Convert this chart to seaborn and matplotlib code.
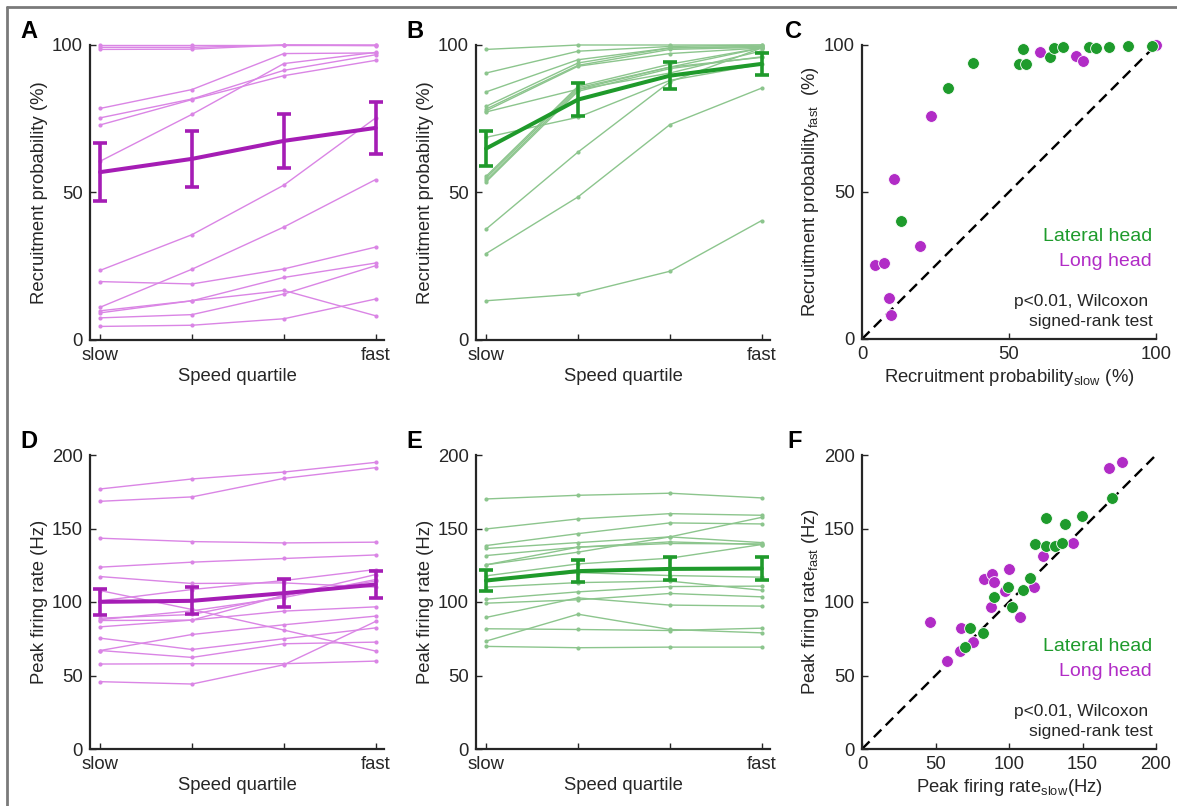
import numpy as np
import pandas as pd
import seaborn as sns
import matplotlib.pyplot as plt
from matplotlib.lines import Line2D

# ---- data ----
QUARTILES = [1, 2, 3, 4]
QUARTILE_LABELS = ["slow", "", "", "fast"]

# A: recruitment probability, long head cells (%)
A_LINES = [
    [100, 100, 100, 100],
    [99.2, 99.2, 100, 100],
    [98.5, 98.6, 100, 99.8],
    [78.5, 84.9, 97.1, 97.3],
    [75.3, 81.7, 91.4, 96.7],
    [72.9, 81.5, 89.6, 94.8],
    [60.6, 76.5, 93.7, 97.5],
    [23.6, 35.7, 52.5, 75.3],
    [11.1, 24.0, 38.3, 54.4],
    [19.8, 19.0, 24.1, 31.5],
    [9.9, 13.3, 21.2, 26.1],
    [9.2, 13.3, 16.8, 8.2],
    [7.5, 8.6, 15.6, 25.2],
    [4.6, 5.0, 7.2, 13.9],
]
A_MEAN = [56.9, 61.4, 67.5, 71.9]
A_ERR = [9.8, 9.6, 9.2, 8.9]

# B: recruitment probability, lateral head cells (%)
B_LINES = [
    [98.5, 100, 100, 100],
    [90.5, 97.9, 99.5, 100],
    [84.1, 95.0, 99.0, 99.5],
    [79.2, 93.9, 99.0, 99.5],
    [78.3, 93.1, 98.5, 99.2],
    [77.7, 92.8, 97.1, 99.0],
    [77.3, 85.0, 92.5, 95.8],
    [68.7, 75.5, 88.0, 93.5],
    [55.5, 86.0, 93.5, 99.0],
    [54.9, 85.5, 92.5, 99.0],
    [54.1, 84.9, 90.5, 98.0],
    [53.6, 84.3, 92.0, 96.0],
    [37.6, 63.7, 87.5, 99.0],
    [29.3, 48.5, 73.0, 85.4],
    [13.3, 15.6, 23.3, 40.5],
]
B_MEAN = [64.9, 81.5, 89.6, 93.6]
B_ERR = [5.8, 5.7, 4.6, 3.7]

# C: recruitment probability slow vs fast
C_LAT_SLOW = [54.9, 53.3, 55.7, 37.7, 29.4, 13.4, 63.8, 65.3, 68.3, 77.2, 79.5, 84.1, 90.6, 98.5]
C_LAT_FAST = [98.6, 93.4, 93.4, 93.8, 85.5, 40.3, 96.0, 99.1, 99.4, 99.4, 99.1, 99.4, 99.7, 99.7]
C_LONG_SLOW = [60.4, 72.7, 75.1, 100, 23.6, 11.0, 19.8, 4.5, 7.4, 9.1, 9.9]
C_LONG_FAST = [97.6, 96.4, 94.7, 100, 75.9, 54.4, 31.5, 25.0, 25.8, 13.9, 8.0]

# D: peak firing rate, long head cells (Hz)
D_LINES = [
    [176.9, 183.7, 188.4, 195.0],
    [168.5, 171.5, 184.1, 191.4],
    [143.4, 141.1, 140.2, 140.7],
    [123.7, 127.1, 129.6, 132.0],
    [117.3, 112.6, 113.0, 110.1],
    [107.8, 94.9, 80.9, 66.6],
    [100.8, 108.5, 114.6, 122.1],
    [89.0, 91.5, 104.0, 118.7],
    [88.0, 94.0, 103.0, 115.3],
    [87.4, 87.7, 93.8, 96.7],
    [83.1, 87.7, 104.5, 114.2],
    [75.4, 67.7, 75.0, 82.4],
    [67.0, 77.9, 84.5, 90.4],
    [67.0, 62.3, 71.6, 72.7],
    [57.8, 58.0, 58.0, 59.8],
    [45.8, 44.2, 57.3, 86.8],
]
D_MEAN = [100.1, 100.8, 106.0, 111.9]
D_ERR = [8.7, 9.3, 9.4, 9.2]

# E: peak firing rate, lateral head cells (Hz)
E_LINES = [
    [170.1, 172.6, 174.0, 170.8],
    [149.7, 156.5, 160.1, 159.0],
    [138.4, 146.5, 153.8, 153.1],
    [136.4, 140.4, 144.3, 140.4],
    [131.6, 137.3, 140.9, 139.1],
    [125.3, 137.3, 139.8, 139.5],
    [125.3, 133.9, 144.3, 157.6],
    [117.8, 125.9, 129.8, 139.1],
    [115.0, 120.0, 118.0, 116.9],
    [110.1, 113.2, 114.2, 108.0],
    [101.9, 106.9, 110.5, 110.8],
    [99.2, 101.5, 105.8, 103.5],
    [89.5, 102.8, 97.9, 97.2],
    [73.4, 91.7, 81.3, 79.0],
    [81.8, 81.3, 80.6, 82.2],
    [69.8, 68.9, 69.3, 69.3],
]
E_MEAN = [114.6, 121.0, 122.5, 122.8]
E_ERR = [7.1, 7.5, 7.8, 8.0]

# F: peak firing rate slow vs fast
F_LAT_SLOW = [170.3, 149.5, 125.0, 138.2, 117.8, 125.3, 131.6, 135.9, 114.4, 99.4, 109.4, 89.5, 101.9, 73.6, 82.0, 69.8]
F_LAT_FAST = [170.6, 158.8, 157.0, 153.1, 139.3, 138.4, 138.4, 140.4, 116.6, 110.5, 108.3, 103.3, 96.9, 82.0, 78.8, 69.3]
F_LONG_SLOW = [176.7, 168.1, 143.4, 123.4, 82.7, 88.3, 89.5, 100.3, 97.4, 87.7, 117.3, 107.6, 46.0, 67.3, 75.4, 66.8, 57.8]
F_LONG_FAST = [195.0, 191.4, 140.4, 131.6, 115.5, 119.1, 113.5, 122.5, 107.8, 96.5, 109.9, 90.1, 86.3, 82.2, 72.5, 66.4, 59.6]

# ---- style ----
PURPLE_THIN = "#da85e5"
PURPLE = "#a51db5"
PURPLE_DOT = "#b12cc6"
GREEN_THIN = "#8cc58d"
GREEN = "#1f9a2b"
GREEN_DOT = "#1e9b2c"
AXIS_COLOR = "#262626"
TEXT_COLOR = "#262626"
FS = 13.3

sns.set_theme(style="ticks")
plt.rcParams["font.family"] = ["Liberation Sans", "DejaVu Sans"]
plt.rcParams["mathtext.fontset"] = "custom"
plt.rcParams["mathtext.rm"] = "Liberation Sans"
plt.rcParams["mathtext.it"] = "Liberation Sans"
plt.rcParams["xtick.direction"] = "in"
plt.rcParams["ytick.direction"] = "in"

W, H = 1177, 806
fig = plt.figure(figsize=(W / 100, H / 100), dpi=100)


def px_axes(x0, x1, y0, y1):
    return fig.add_axes([x0 / W, 1 - y1 / H, (x1 - x0) / W, (y1 - y0) / H])


def style_axes(ax):
    sns.despine(ax=ax)
    for side in ["left", "bottom"]:
        ax.spines[side].set_linewidth(1.6)
        ax.spines[side].set_color(AXIS_COLOR)
    ax.tick_params(length=4, width=1.0, color=AXIS_COLOR, labelsize=FS,
                   labelcolor=TEXT_COLOR, pad=5)


def quartile_panel(ax, lines, mean, err, thin, strong, ymax, ylabel):
    df = pd.DataFrame(lines, columns=QUARTILES)
    df["cell"] = range(len(df))
    long = df.melt(id_vars="cell", var_name="quartile", value_name="value")
    sns.lineplot(data=long, x="quartile", y="value", units="cell", estimator=None,
                 color=thin, lw=1.0, marker="o", markersize=3, markeredgewidth=0,
                 legend=False, ax=ax, clip_on=False)
    ax.errorbar(QUARTILES, mean, yerr=err, color=strong, lw=2.9, elinewidth=2.6,
                capsize=5, capthick=2.6, zorder=5)
    ax.set_xlim(0.89, 4.09)
    ax.set_ylim(0, ymax)
    ax.set_xticks(QUARTILES)
    ax.set_xticklabels(QUARTILE_LABELS)
    ax.set_yticks([0, 50, 100] if ymax == 100 else [0, 50, 100, 150, 200])
    ax.set_xlabel("Speed quartile", fontsize=FS, color=TEXT_COLOR, labelpad=3)
    ax.set_ylabel(ylabel, fontsize=FS, color=TEXT_COLOR, labelpad=3)
    style_axes(ax)


def scatter_panel(ax, lat_x, lat_y, long_x, long_y, lim, xlabel, ylabel, ticks):
    ax.plot([0, lim], [0, lim], color="black", lw=1.7, ls=(0, (4.5, 2.6)), zorder=1)
    sns.scatterplot(x=long_x, y=long_y, color=PURPLE_DOT, s=72, edgecolor="white",
                    linewidth=0.6, ax=ax, zorder=3, clip_on=False)
    sns.scatterplot(x=lat_x, y=lat_y, color=GREEN_DOT, s=72, edgecolor="white",
                    linewidth=0.6, ax=ax, zorder=4, clip_on=False)
    ax.set_xlim(0, lim)
    ax.set_ylim(0, lim)
    ax.set_xticks(ticks)
    ax.set_yticks(ticks)
    ax.set_xlabel(xlabel, fontsize=FS, color=TEXT_COLOR, labelpad=3)
    ax.set_ylabel(ylabel, fontsize=FS, color=TEXT_COLOR, labelpad=2)
    style_axes(ax)
    ax.text(0.986 * lim, 0.347 * lim, "Lateral head", color=GREEN_DOT, fontsize=14,
            ha="right", va="center")
    ax.text(0.986 * lim, 0.262 * lim, "Long head", color=PURPLE_DOT, fontsize=14,
            ha="right", va="center")
    ax.text(0.973 * lim, 0.129 * lim, "p<0.01, Wilcoxon", color=TEXT_COLOR,
            fontsize=12.5, ha="right", va="center")
    ax.text(0.99 * lim, 0.061 * lim, "signed-rank test", color=TEXT_COLOR,
            fontsize=12.5, ha="right", va="center")


axA = px_axes(90, 384, 45, 340)
axB = px_axes(476, 770, 45, 340)
axC = px_axes(862, 1156, 45, 339)
axD = px_axes(90, 384, 455, 749)
axE = px_axes(476, 770, 455, 749)
axF = px_axes(862, 1156, 455, 749)

quartile_panel(axA, A_LINES, A_MEAN, A_ERR, PURPLE_THIN, PURPLE, 100,
               "Recruitment probability (%)")
quartile_panel(axB, B_LINES, B_MEAN, B_ERR, GREEN_THIN, GREEN, 100,
               "Recruitment probability (%)")
quartile_panel(axD, D_LINES, D_MEAN, D_ERR, PURPLE_THIN, PURPLE, 200,
               "Peak firing rate (Hz)")
quartile_panel(axE, E_LINES, E_MEAN, E_ERR, GREEN_THIN, GREEN, 200,
               "Peak firing rate (Hz)")
scatter_panel(axC, C_LAT_SLOW, C_LAT_FAST, C_LONG_SLOW, C_LONG_FAST, 100,
              r"Recruitment probability$_{\mathrm{slow}}$ (%)",
              r"Recruitment probability$_{\mathrm{fast}}$  (%)", [0, 50, 100])
scatter_panel(axF, F_LAT_SLOW, F_LAT_FAST, F_LONG_SLOW, F_LONG_FAST, 200,
              r"Peak firing rate$_{\mathrm{slow}}$(Hz)",
              r"Peak firing rate$_{\mathrm{fast}}$ (Hz)", [0, 50, 100, 150, 200])

# panel letters
for letter, (x, y) in {"A": (20, 32), "B": (406, 32), "C": (785, 32),
                       "D": (20, 442), "E": (406, 442), "F": (787, 442)}.items():
    fig.text(x / W, 1 - y / H, letter, fontsize=17, fontweight="bold",
             ha="left", va="center", color="black")

# grey frame of the original screenshot (left and top edges)
fig.add_artist(Line2D([7 / W, 7 / W], [0, 1 - 7 / H], color="#7a7a7a", lw=2,
                      transform=fig.transFigure))
fig.add_artist(Line2D([7 / W, 1], [1 - 7 / H, 1 - 7 / H], color="#7a7a7a", lw=2,
                      transform=fig.transFigure))

fig.savefig("out.png", dpi=100, facecolor="white")
